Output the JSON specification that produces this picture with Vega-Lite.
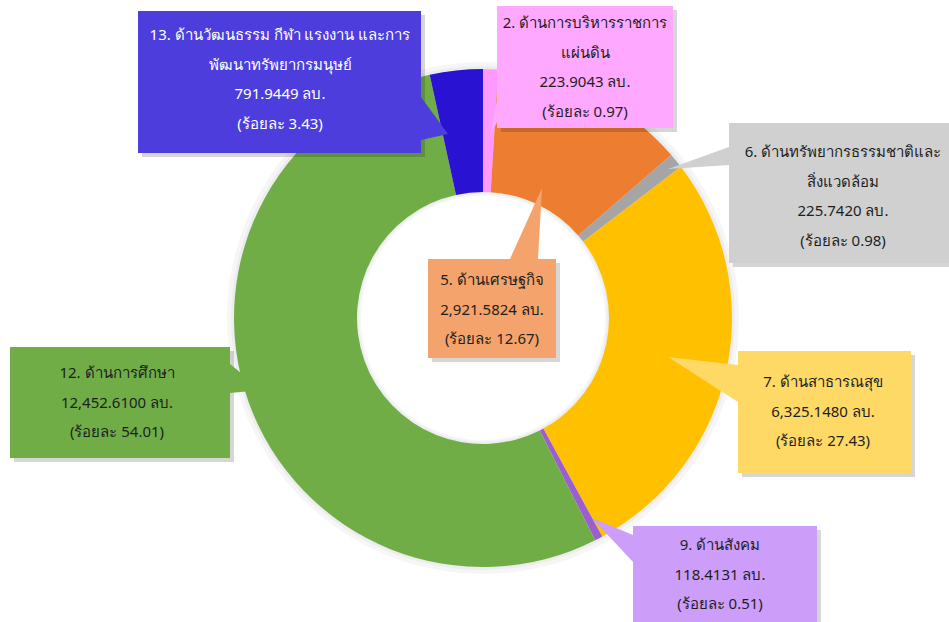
{
  "$schema": "https://vega.github.io/schema/vega-lite/v6.json",
  "width": 949,
  "height": 622,
  "autosize": "none",
  "padding": 0,
  "background": "white",
  "config": {"view": {"stroke": null}, "font": "Tahoma, Noto Sans, DejaVu Sans, sans-serif"},
  "datasets": {
    "slices": [
      {"no": 2, "label": "ด้านการบริหารราชการแผ่นดิน", "value": 223.9043, "pct": 0.97},
      {"no": 5, "label": "ด้านเศรษฐกิจ", "value": 2921.5824, "pct": 12.67},
      {"no": 6, "label": "ด้านทรัพยากรธรรมชาติและสิ่งแวดล้อม", "value": 225.742, "pct": 0.98},
      {"no": 7, "label": "ด้านสาธารณสุข", "value": 6325.148, "pct": 27.43},
      {"no": 9, "label": "ด้านสังคม", "value": 118.4131, "pct": 0.51},
      {"no": 12, "label": "ด้านการศึกษา", "value": 12452.61, "pct": 54.01},
      {"no": 13, "label": "ด้านวัฒนธรรม กีฬา แรงงาน และการพัฒนาทรัพยากรมนุษย์", "value": 791.9449, "pct": 3.43}
    ],
    "callouts": [
      {"no": 13, "lines": ["13. ด้านวัฒนธรรม  กีฬา แรงงาน และการ", "พัฒนาทรัพยากรมนุษย์", "791.9449 ลบ.", "(ร้อยละ 3.43)"], "bx1": -345, "bx2": -62, "by1": 165, "by2": 307, "tx": -203, "ty": 283},
      {"no": 2, "lines": ["2. ด้านการบริหารราชการ", "แผ่นดิน", "223.9043  ลบ.", "(ร้อยละ 0.97)"], "bx1": 14, "bx2": 190, "by1": 190, "by2": 312, "tx": 102, "ty": 295},
      {"no": 6, "lines": ["6. ด้านทรัพยากรธรรมชาติและ", "สิ่งแวดล้อม", "225.7420 ลบ.", "(ร้อยละ 0.98)"], "bx1": 246, "bx2": 466, "by1": 55, "by2": 195, "tx": 360, "ty": 166},
      {"no": 5, "lines": ["5. ด้านเศรษฐกิจ", "2,921.5824 ลบ.", "(ร้อยละ 12.67)"], "bx1": -55, "bx2": 73, "by1": -40, "by2": 59, "tx": 9, "ty": 38},
      {"no": 12, "lines": ["12. ด้านการศึกษา", "12,452.6100 ลบ.", "(ร้อยละ 54.01)"], "bx1": -473, "bx2": -253, "by1": -140, "by2": -29, "tx": -366, "ty": -55},
      {"no": 7, "lines": ["7. ด้านสาธารณสุข", "6,325.1480 ลบ.", "(ร้อยละ 27.43)"], "bx1": 255, "bx2": 428, "by1": -155, "by2": -33, "tx": 340, "ty": -64},
      {"no": 9, "lines": ["9. ด้านสังคม", "118.4131 ลบ.", "(ร้อยละ 0.51)"], "bx1": 150, "bx2": 334, "by1": -310, "by2": -208, "tx": 237, "ty": -227}
    ],
    "tails": [
      {"no": 13, "v": 1, "px": -62, "py": 221},
      {"no": 13, "v": 2, "px": -35, "py": 184},
      {"no": 13, "v": 3, "px": -62, "py": 178},
      {"no": 2, "v": 1, "px": 14, "py": 218},
      {"no": 2, "v": 2, "px": 6, "py": 178},
      {"no": 2, "v": 3, "px": 14, "py": 196},
      {"no": 6, "v": 1, "px": 246, "py": 171},
      {"no": 6, "v": 2, "px": 185, "py": 149},
      {"no": 6, "v": 3, "px": 246, "py": 153},
      {"no": 5, "v": 1, "px": 27, "py": 59},
      {"no": 5, "v": 2, "px": 59, "py": 130},
      {"no": 5, "v": 3, "px": 55, "py": 59},
      {"no": 12, "v": 1, "px": -253, "py": -46},
      {"no": 12, "v": 2, "px": -221, "py": -72},
      {"no": 12, "v": 3, "px": -253, "py": -75},
      {"no": 7, "v": 1, "px": 255, "py": -47},
      {"no": 7, "v": 2, "px": 185, "py": -39},
      {"no": 7, "v": 3, "px": 255, "py": -84},
      {"no": 9, "v": 1, "px": 150, "py": -217},
      {"no": 9, "v": 2, "px": 109, "py": -200},
      {"no": 9, "v": 3, "px": 150, "py": -244}
    ]
  },
  "layer": [
    {
      "data": {"values": [{"ring": "halo"}]},
      "mark": {"type": "arc", "innerRadius": 122, "outerRadius": 256, "color": "#000", "opacity": 0.035},
      "encoding": {
        "x": {"datum": 0, "type": "quantitative", "scale": {"domain": [-483, 466], "nice": false, "zero": false}, "axis": null},
        "y": {"datum": 0, "type": "quantitative", "scale": {"domain": [-304, 318], "nice": false, "zero": false}, "axis": null}
      }
    },
    {
      "data": {"values": [{"ring": "halo2"}]},
      "mark": {"type": "arc", "innerRadius": 124, "outerRadius": 252, "color": "#000", "opacity": 0.035},
      "encoding": {
        "x": {"datum": 0, "type": "quantitative", "scale": {"domain": [-483, 466], "nice": false, "zero": false}, "axis": null},
        "y": {"datum": 0, "type": "quantitative", "scale": {"domain": [-304, 318], "nice": false, "zero": false}, "axis": null}
      }
    },
    {
      "data": {"name": "slices"},
      "mark": {"type": "arc", "innerRadius": 126, "outerRadius": 249},
      "encoding": {
        "x": {"datum": 0, "type": "quantitative", "scale": {"domain": [-483, 466], "nice": false, "zero": false}, "axis": null},
        "y": {"datum": 0, "type": "quantitative", "scale": {"domain": [-304, 318], "nice": false, "zero": false}, "axis": null},
        "theta": {"field": "value", "type": "quantitative", "stack": true},
        "order": {"field": "no", "type": "quantitative"},
        "color": {"field": "no", "type": "nominal", "scale": {"domain": [2, 5, 6, 7, 9, 12, 13], "range": ["#FF99FF", "#ED7D31", "#A5A5A5", "#FFC000", "#9A5ED0", "#70AD47", "#2A12D2"]}, "legend": null}
      }
    },
    {
      "data": {"name": "callouts"},
      "mark": {"type": "rect", "color": "#000", "opacity": 0.16, "xOffset": 4, "x2Offset": 4, "yOffset": 4, "y2Offset": 4},
      "encoding": {
        "x": {"field": "bx1", "type": "quantitative", "scale": {"domain": [-483, 466], "nice": false, "zero": false}, "axis": null},
        "x2": {"field": "bx2"},
        "y": {"field": "by1", "type": "quantitative", "scale": {"domain": [-304, 318], "nice": false, "zero": false}, "axis": null},
        "y2": {"field": "by2"}
      }
    },
    {
      "data": {"name": "tails"},
      "mark": {"type": "line", "interpolate": "linear-closed", "strokeWidth": 0},
      "encoding": {
        "x": {"field": "px", "type": "quantitative", "scale": {"domain": [-483, 466], "nice": false, "zero": false}, "axis": null},
        "y": {"field": "py", "type": "quantitative", "scale": {"domain": [-304, 318], "nice": false, "zero": false}, "axis": null},
        "order": {"field": "v", "type": "quantitative"},
        "detail": {"field": "no", "type": "nominal"},
        "fill": {"field": "no", "type": "nominal", "scale": {"domain": [2, 5, 6, 7, 9, 12, 13], "range": ["#FFA8FF", "#F4A36C", "#D0D0D0", "#FFD966", "#CC9EFA", "#70AD47", "#4C3DDC"]}, "legend": null}
      }
    },
    {
      "data": {"name": "callouts"},
      "mark": {"type": "rect"},
      "encoding": {
        "x": {"field": "bx1", "type": "quantitative", "scale": {"domain": [-483, 466], "nice": false, "zero": false}, "axis": null},
        "x2": {"field": "bx2"},
        "y": {"field": "by1", "type": "quantitative", "scale": {"domain": [-304, 318], "nice": false, "zero": false}, "axis": null},
        "y2": {"field": "by2"},
        "fill": {"field": "no", "type": "nominal", "scale": {"domain": [2, 5, 6, 7, 9, 12, 13], "range": ["#FFA8FF", "#F4A36C", "#D0D0D0", "#FFD966", "#CC9EFA", "#70AD47", "#4C3DDC"]}, "legend": null}
      }
    },
    {
      "data": {"name": "callouts"},
      "mark": {"type": "text", "align": "center", "baseline": "middle", "fontSize": 15, "lineHeight": 29.5},
      "encoding": {
        "x": {"field": "tx", "type": "quantitative", "scale": {"domain": [-483, 466], "nice": false, "zero": false}, "axis": null},
        "y": {"field": "ty", "type": "quantitative", "scale": {"domain": [-304, 318], "nice": false, "zero": false}, "axis": null},
        "text": {"field": "lines"},
        "color": {"condition": {"test": "datum.no === 13", "value": "#FFFFFF"}, "value": "#1E1E1E"}
      }
    }
  ]
}
